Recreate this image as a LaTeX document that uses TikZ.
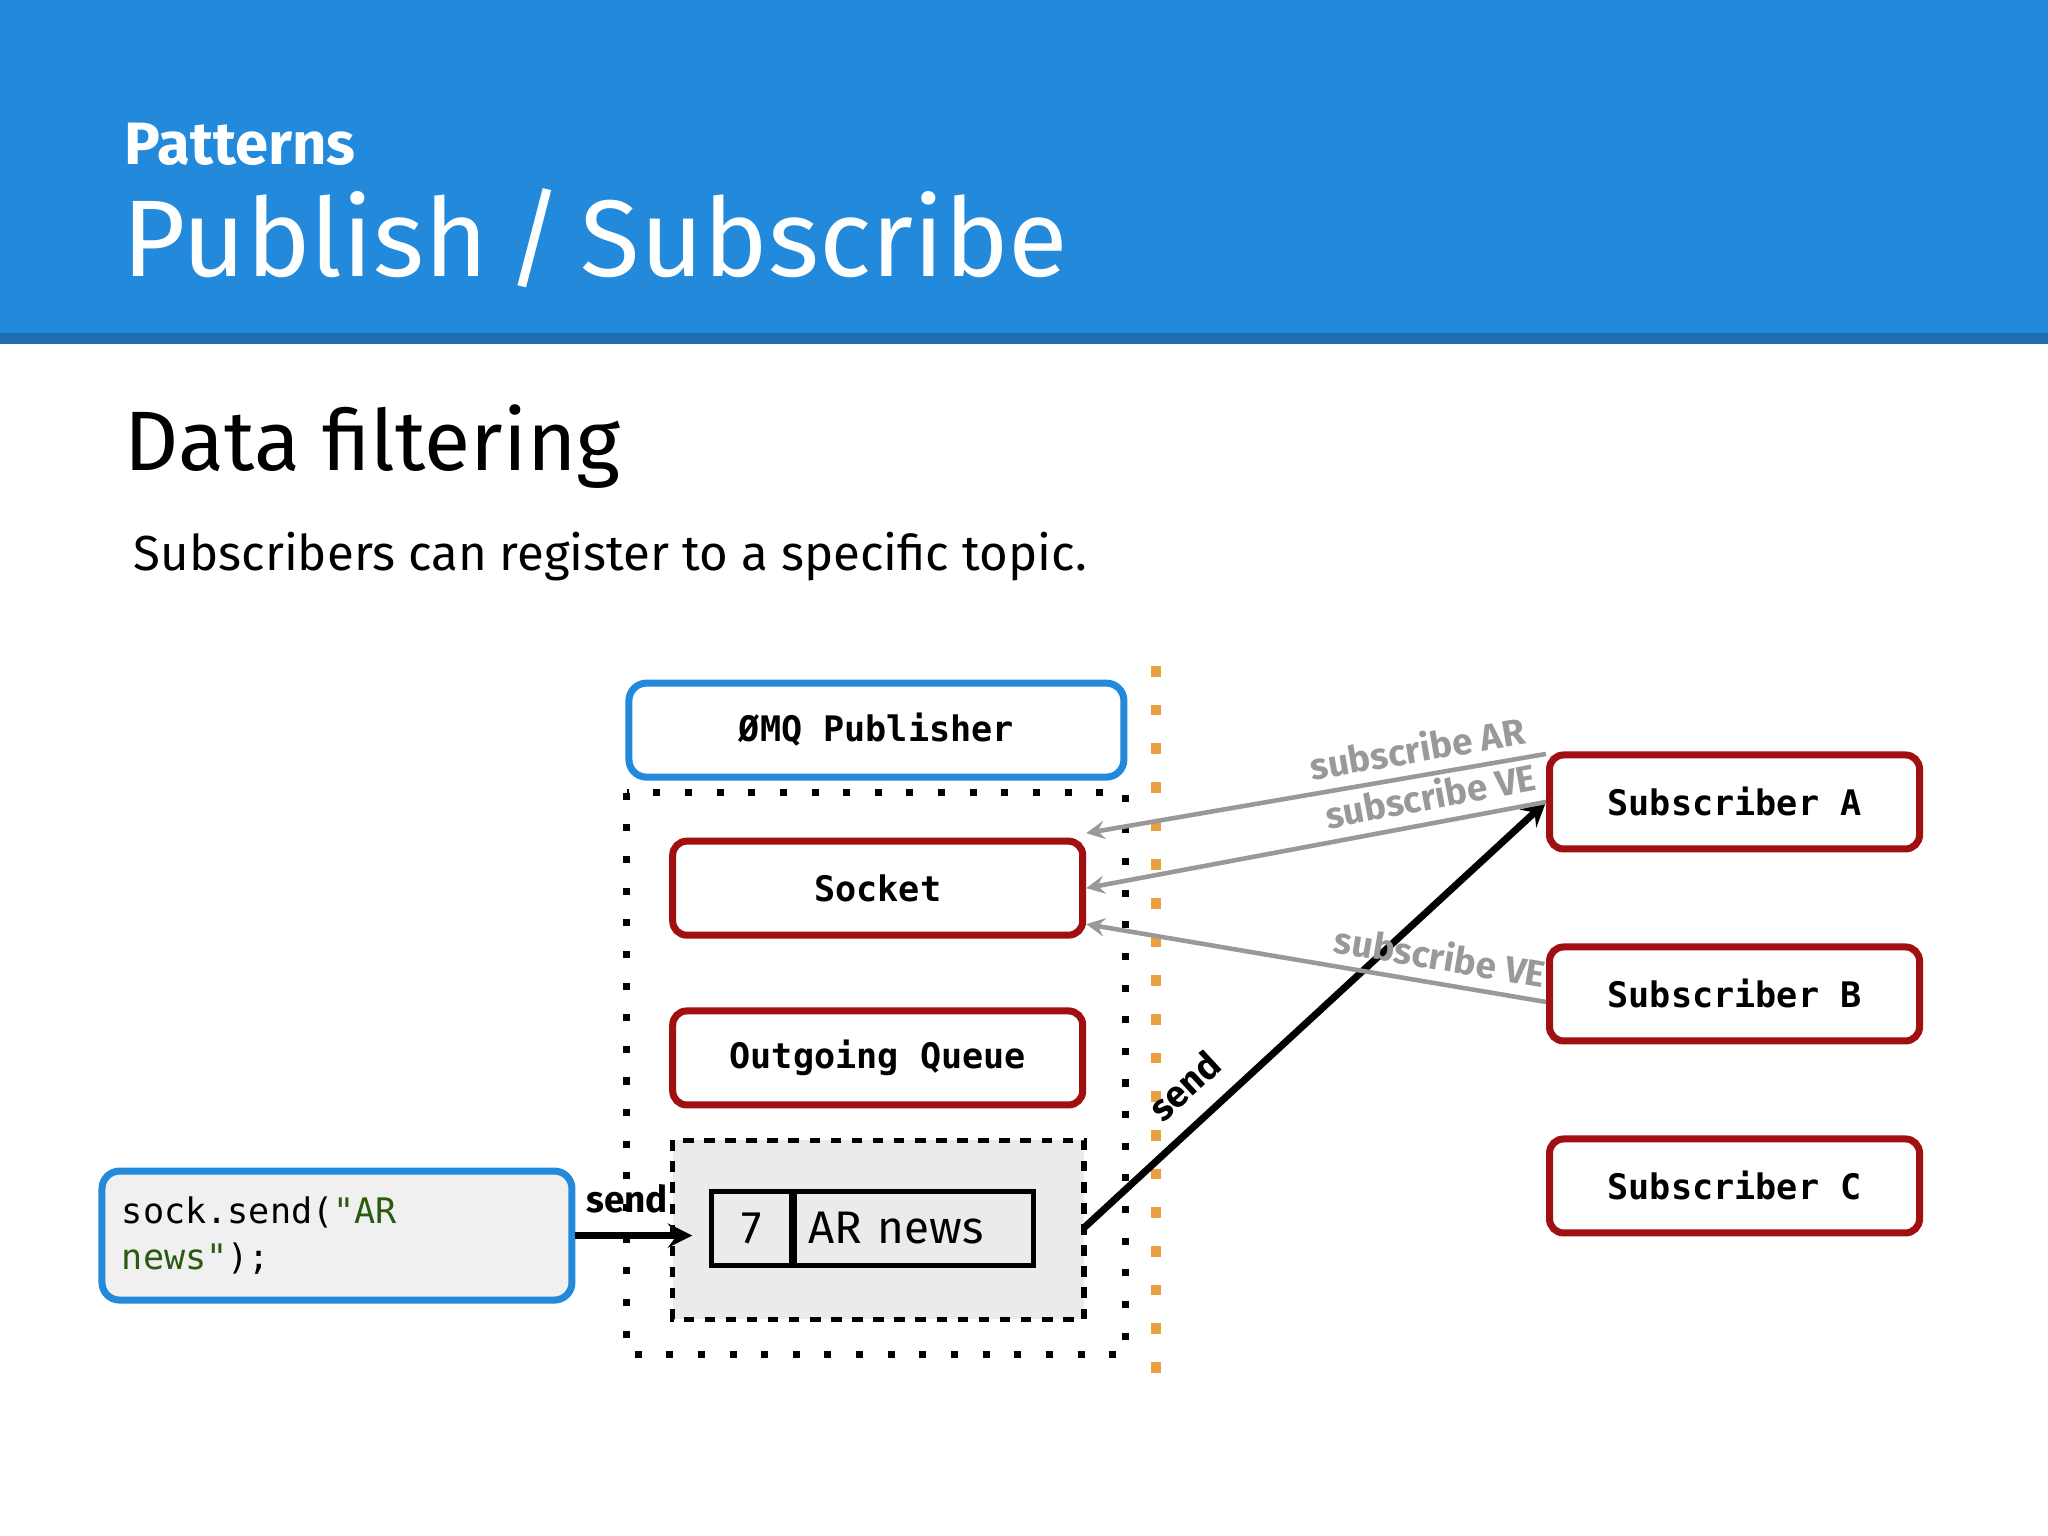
\documentclass[tikz,border=0pt]{standalone}
\usepackage{fontspec}
\setmainfont{Fira Sans}
\newfontfamily\codefont{DejaVu Sans Mono}
\usetikzlibrary{positioning}
\definecolor{headblue}{HTML}{2389DB}
\definecolor{stripblue}{HTML}{1F6DB0}
\definecolor{boxred}{HTML}{A01010}
\definecolor{subgray}{HTML}{999999}
\definecolor{dots}{HTML}{E8A040}
\definecolor{codegreen}{HTML}{2A5A10}
\tikzset{
  redbox/.style={draw=boxred, line width=2pt, rounded corners=4pt, minimum width=4.1cm, minimum height=0.94cm, font=\codefont\bfseries\fontsize{10}{12}\selectfont},
  bluebox/.style={draw=headblue, line width=2pt, rounded corners=5pt},
  subarrow/.style={->, >=stealth, subgray, line width=1.3pt},
  sublabel/.style={subgray, font=\bfseries\fontsize{10.5}{12}\selectfont, sloped, above, inner sep=3pt}
}
\begin{document}
\begin{tikzpicture}[x=0.01306cm,y=-0.01306cm]
\useasboundingbox (0,0) rectangle (1568,1176);
% header
\fill[headblue] (0,0) rectangle (1568,255);
\fill[stripblue] (0,255) rectangle (1568,263);
\node[anchor=base west, white, font=\bfseries\fontsize{17}{20}\selectfont, inner sep=0] (pat) at (95,126) {Patterns};
\node[anchor=base west, white, font=\fontsize{31}{36}\selectfont, inner sep=0] (tit) at (93,212) {Publish\,/\,Subscribe};
\node[anchor=base west, font=\fontsize{24}{28}\selectfont, inner sep=0] (sec) at (95,360) {Data filtering};
\node[anchor=base west, font=\fontsize{14}{17}\selectfont, inner sep=0] (txt) at (102,437) {Subscribers can register to a specific topic.};
% publisher
\node[bluebox, minimum width=4.95cm, minimum height=0.94cm, font=\codefont\bfseries\fontsize{10}{12}\selectfont] (pub) at (671,559) {ØMQ Publisher};
\draw[line width=2pt, dash pattern=on 2pt off 7pt] (480,607) rectangle (862,1037);
\node[redbox] (sock) at (672,680) {Socket};
\node[redbox] (queue) at (672,810) {Outgoing Queue};
\draw[line width=1.5pt, dashed, fill=black!8] (515,873) rectangle (830,1010);
\coordinate (qin) at (530,946);
\coordinate (qout) at (830,940);
\node[draw, line width=1.5pt, minimum width=0.8cm, minimum height=0.74cm, font=\fontsize{13}{15}\selectfont] (num) at (575.5,940.5) {7};
\node[draw, line width=1.5pt, minimum width=2.39cm, minimum height=0.74cm, font=\fontsize{13}{15}\selectfont, right=-0.75pt of num, text width=2.1cm] (msg) {AR news};
% divider
\draw[dots, line width=3pt, dash pattern=on 3pt off 8pt] (885,510) -- (885,1060);
% subscribers
\node[redbox, minimum width=3.7cm] (subA) at (1328,614) {Subscriber A};
\node[redbox, minimum width=3.7cm] (subB) at (1328,761) {Subscriber B};
\node[redbox, minimum width=3.7cm] (subC) at (1328,908) {Subscriber C};
% code
\node[bluebox, fill=black!6, minimum width=4.7cm, minimum height=1.29cm, text width=4.3cm, align=left, font=\codefont\fontsize{10}{13}\selectfont] (code) at (258,946) {sock.send(\textcolor{codegreen}{"AR}\\\textcolor{codegreen}{news"});};
% connectors
\draw[->, >=stealth, line width=2pt] (code.east) -- node[above left=2pt and -14pt, font=\bfseries\fontsize{10.5}{12}\selectfont] {send} (qin);
\draw[->, >=stealth, line width=2pt] (qout) -- node[pos=0.27, sloped, above=2pt, font=\bfseries\fontsize{10.5}{12}\selectfont] {send} (subA.west);
\draw[subarrow] ([yshift=0.48cm]subA.west) -- node[sublabel, pos=0.27] {subscribe AR} ([yshift=0.55cm]sock.east);
\draw[subarrow] (subA.west) -- node[sublabel, pos=0.24] {subscribe VE} (sock.east);
\draw[subarrow] ([yshift=-0.08cm]subB.west) -- node[sublabel, pos=0.24] {subscribe VE} ([yshift=-0.36cm]sock.east);
\end{tikzpicture}
\end{document}
